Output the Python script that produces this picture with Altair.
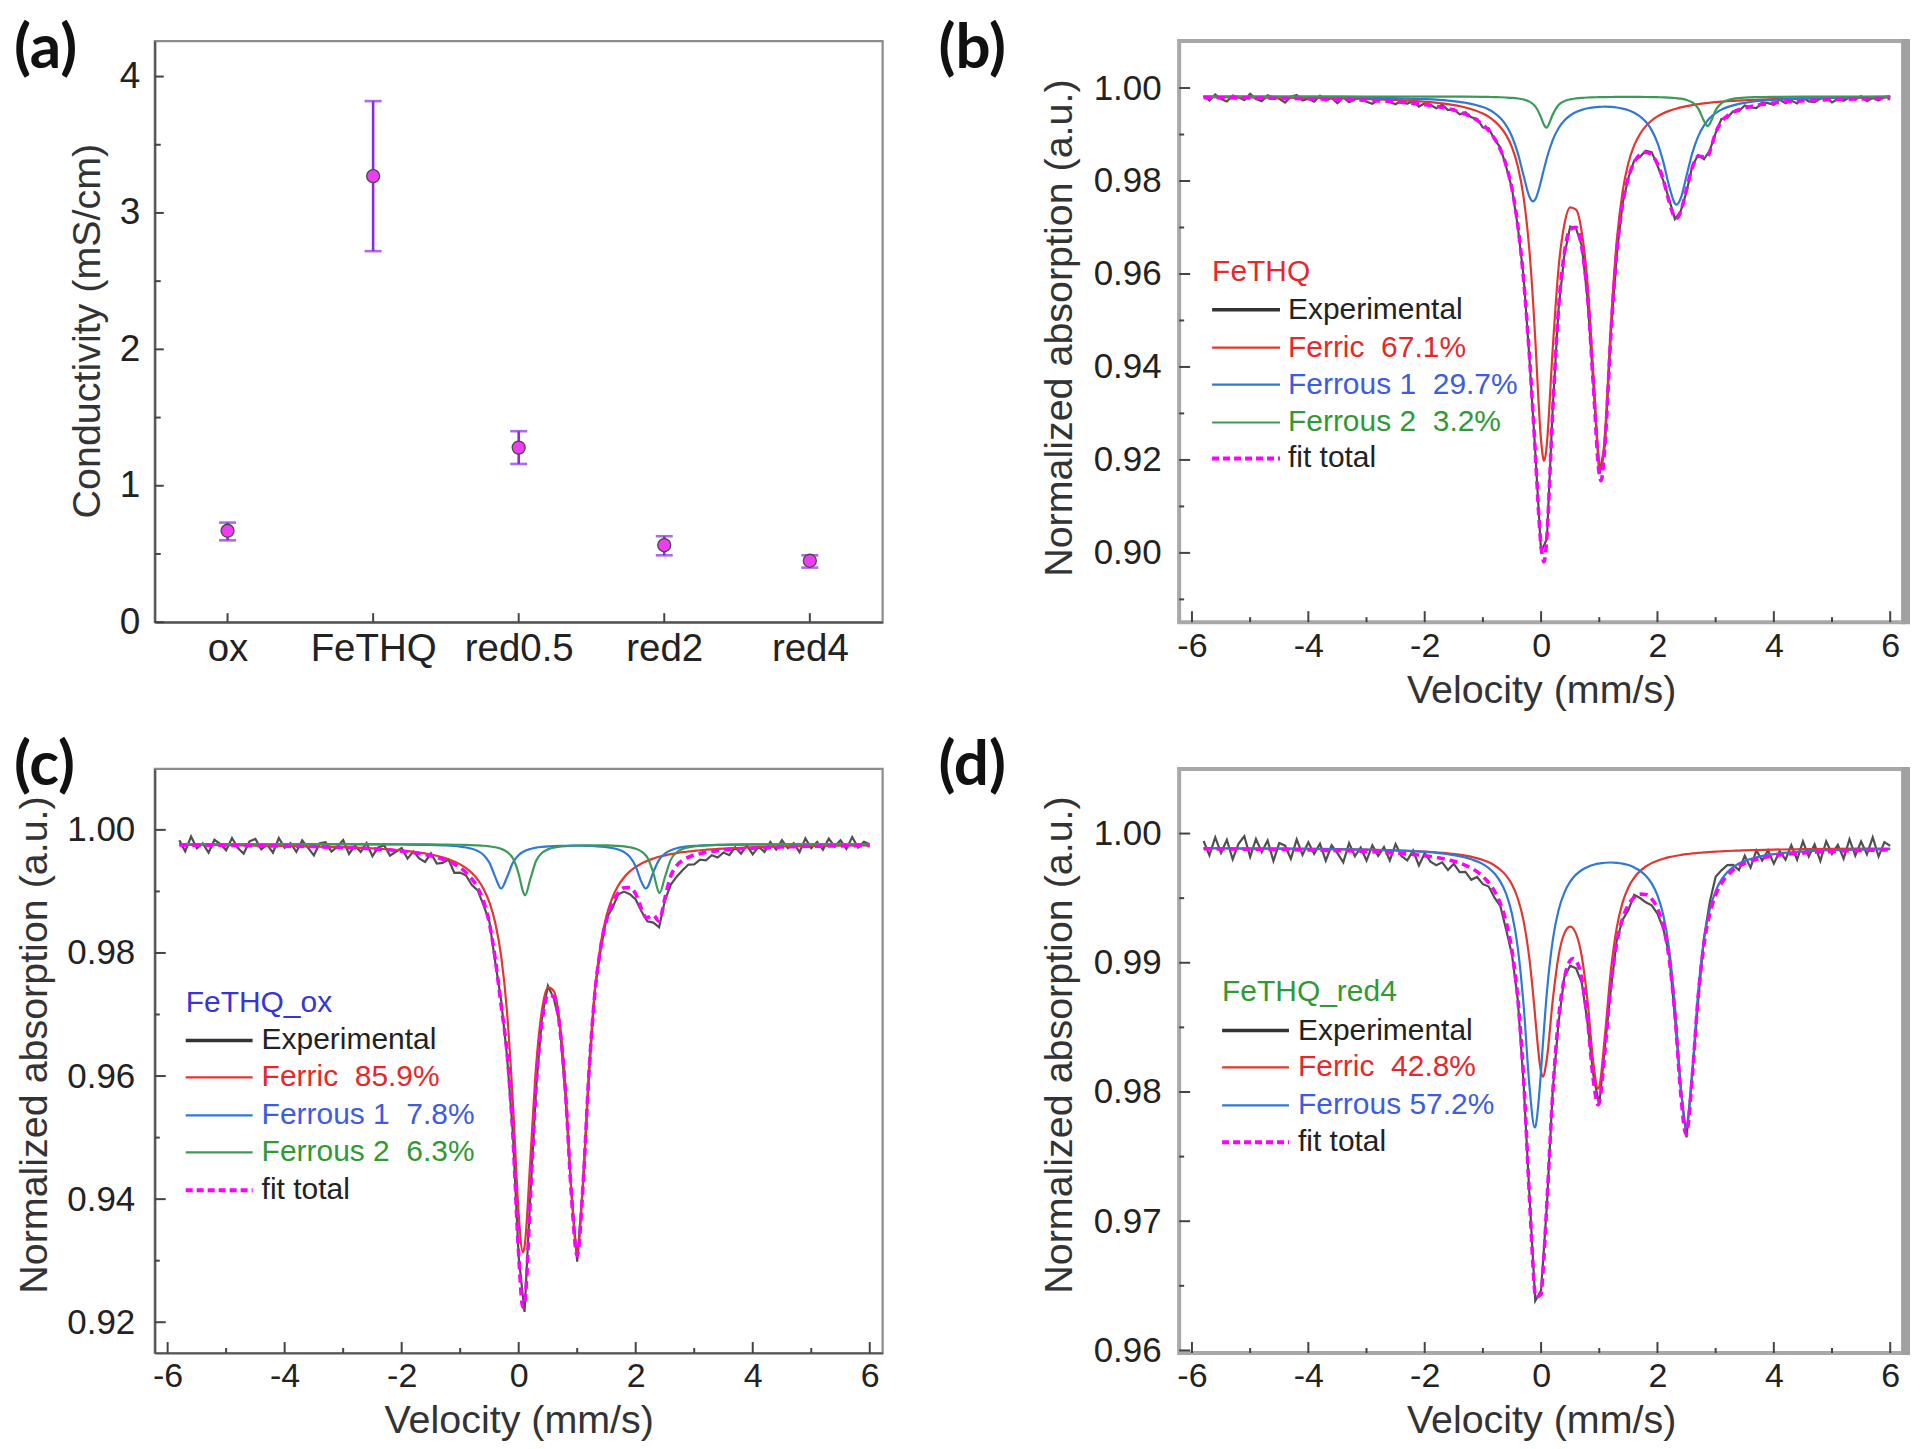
import altair as alt
import pandas as pd

FONT = "Liberation Sans"
LABEL_FONT = "Lato"

# ---------------- panel (a): conductivity ----------------
samples = ["ox", "FeTHQ", "red0.5", "red2", "red4"]
cond_mean = [0.67, 3.27, 1.28, 0.565, 0.45]
cond_low = [0.60, 2.72, 1.16, 0.49, 0.40]
cond_high = [0.73, 3.82, 1.40, 0.63, 0.49]
cond_ticks_major = [0, 1, 2, 3, 4]
cond_ticks_minor = [0.5, 1.5, 2.5, 3.5]

# ---------------- tick values of the spectra ----------------
vel_major = [-6, -4, -2, 0, 2, 4, 6]
vel_minor = [-5, -3, -1, 1, 3, 5]
b_y_major = [0.90, 0.92, 0.94, 0.96, 0.98, 1.00]
b_y_minor = [0.89, 0.91, 0.93, 0.95, 0.97, 0.99]
c_y_major = [0.92, 0.94, 0.96, 0.98, 1.00]
c_y_minor = [0.93, 0.95, 0.97, 0.99]
d_y_major = [0.96, 0.97, 0.98, 0.99, 1.00]
d_y_minor = [0.965, 0.975, 0.985, 0.995]

# ---------------- experimental channels (mm/s) ----------------
velocity_exp = [
    -5.8, -5.7, -5.6, -5.5, -5.4, -5.3, -5.2, -5.1, -5.0, -4.9,
    -4.8, -4.7, -4.6, -4.5, -4.4, -4.3, -4.2, -4.1, -4.0, -3.9,
    -3.8, -3.7, -3.6, -3.5, -3.4, -3.3, -3.2, -3.1, -3.0, -2.9,
    -2.8, -2.7, -2.6, -2.5, -2.4, -2.3, -2.2, -2.1, -2.0, -1.9,
    -1.8, -1.7, -1.6, -1.5, -1.4, -1.3, -1.2, -1.1, -1.0, -0.9,
    -0.8, -0.7, -0.6, -0.5, -0.4, -0.3, -0.2, -0.1, 0.0, 0.1,
    0.2, 0.3, 0.4, 0.5, 0.6, 0.7, 0.8, 0.9, 1.0, 1.1,
    1.2, 1.3, 1.4, 1.5, 1.6, 1.7, 1.8, 1.9, 2.0, 2.1,
    2.2, 2.3, 2.4, 2.5, 2.6, 2.7, 2.8, 2.9, 3.0, 3.1,
    3.2, 3.3, 3.4, 3.5, 3.6, 3.7, 3.8, 3.9, 4.0, 4.1,
    4.2, 4.3, 4.4, 4.5, 4.6, 4.7, 4.8, 4.9, 5.0, 5.1,
    5.2, 5.3, 5.4, 5.5, 5.6, 5.7, 5.8, 5.9, 6.0,
]

exp_b = [
    .99834, .99734, .99863, .99762, .99711, .9984, .99799, .99738, .99876, .99765,
    .99714, .99842, .99801, .99769, .99687, .99815, .99853, .99731, .99769, .99707,
    .99834, .99731, .99788, .99674, .998, .99696, .99752, .99799, .99705, .9966,
    .99744, .99797, .997, .99652, .99732, .99662, .9972, .99598, .99673, .99635,
    .99565, .99642, .99526, .99544, .99435, .99478, .99369, .99335, .9915, .99135,
    .98895, .98719, .98308, .97839, .9702, .95932, .94186, .92186, .90024, .903,
    .93108, .95246, .96403, .9702, .96982, .96602, .95444, .93607, .91694, .92336,
    .94737, .964, .97513, .98065, .98442, .98519, .9865, .9862, .98332, .98008,
    .97609, .97182, .97353, .9777, .9833, .98558, .98468, .98662, .99029, .99335,
    .99361, .99499, .99503, .99623, .99583, .99568, .99687, .99674, .99639, .9975,
    .9967, .99729, .99667, .99795, .99711, .99697, .99772, .99797, .99691, .99764,
    .99727, .998, .99753, .99827, .99719, .99792, .9973, .99806, .99828,
]

exp_c = [
    .99833, .99652, .99892, .99701, .99781, .9963, .99839, .99769, .99668, .99867,
    .99706, .99615, .99814, .99853, .99682, .9976, .99629, .99867, .99706, .99784,
    .99642, .9983, .99708, .99586, .99783, .99801, .99648, .99726, .99833, .99609,
    .99745, .99641, .99787, .99572, .99716, .99749, .99582, .99644, .99704, .99533,
    .9965, .99536, .99479, .99618, .99454, .99464, .99518, .99303, .99305, .99258,
    .99104, .99016, .98774, .98508, .97846, .97228, .96327, .95085, .93063, .92168,
    .94074, .95826, .96976, .97467, .97259, .9686, .95675, .94121, .92985, .94254,
    .95989, .97387, .98047, .9857, .98725, .98951, .98997, .98954, .98868, .98674,
    .98515, .98493, .98417, .98856, .99112, .99239, .99345, .99436, .9944, .99515,
    .99504, .99588, .9955, .99631, .99589, .99716, .99612, .99748, .99603, .99727,
    .99641, .99804, .99678, .99831, .99704, .99786, .99639, .99861, .99703, .99805,
    .99676, .99857, .99729, .99831, .99691, .99883, .99714, .99805, .99766,
]

exp_d = [
    .99942, .99832, .99971, .99851, .99951, .998, .9992, .99979, .99819, .99958,
    .99858, .99947, .99787, .99926, .99906, .99805, .99954, .99834, .99933, .99842,
    .99921, .9979, .99909, .99848, .99777, .99925, .99824, .99892, .99791, .99909,
    .99827, .99895, .99792, .99919, .99826, .99792, .99868, .99753, .99848, .99782,
    .99755, .99777, .99717, .99766, .99702, .99704, .99642, .99664, .99608, .9959,
    .99504, .99438, .99256, .99062, .98713, .98062, .97204, .96383, .96465, .97122,
    .9801, .98537, .9889, .98977, .98957, .98845, .98529, .98125, .97901, .98364,
    .98798, .99173, .99331, .99409, .99526, .99501, .99468, .99444, .99381, .99264,
    .99066, .98582, .98028, .97649, .98148, .98707, .99194, .99472, .99665, .99715,
    .99755, .99757, .99717, .99829, .99736, .9987, .99791, .9987, .99767, .99863,
    .99798, .9991, .99797, .9994, .99823, .99916, .99788, .9994, .99842, .99913,
    .99805, .99956, .99828, .99939, .9984, .99971, .99822, .99933, .99904,
]

# ---------------- fitted sub-spectra, panel (b) FeTHQ ----------------
fit_v_b = [-5.8, -5.0, -4.0, -3.0, -2.5, -2.0, -1.6, -1.3,
           -1.0, -0.9, -0.8, -0.7, -0.6, -0.5, -0.4, -0.3, -0.2,
           -0.14, -0.1, 0.0, 0.05, 0.09,
           0.1, 0.2, 0.3, 0.4, 0.5, 0.6, 0.7, 0.8, 0.9, 1.0,
           1.03,
           1.1, 1.2, 1.3, 1.4, 1.5, 1.6, 1.7, 1.8, 1.9, 2.0, 2.1, 2.2, 2.3,
           2.33,
           2.4, 2.5, 2.6, 2.7, 2.8,
           2.86,
           2.9, 3.0, 3.1, 3.2, 3.3, 3.4, 3.5,
           3.7, 4.0, 4.5, 5.0, 5.5, 6.0]
ferric_b = [.99803, .99798, .99787, .99764, .99742, .99705, .99652, .99581,
            .9945, .99381, .99288, .99163, .98986, .98723, .98316, .97647, .96499,
            .95456, .94597, .92415, .91982, .92217,
            .92349, .94391, .96129, .97065, .97434, .97383, .96892, .95774, .93822, .91925,
            .91791,
            .92602, .94926, .96712, .97767, .98385, .98765, .99012, .9918, .99301, .99389, .99457, .99509, .9955,
            .99561,
            .99584, .99611, .99634, .99653, .9967,
            .99678,
            .99684, .99696, .99706, .99715, .99724, .99731, .99737,
            .99748, .99761, .99775, .99785, .99792, .99797]
ferrous1_b = [.99812, .99809, .99804, .99792, .99781, .99761, .99729, .99684,
              .9959, .99536, .99462, .99355, .99196, .98957, .98599, .98113, .9766,
              .97561, .97605, .98003, .98259, .98453,
              .98499, .9888, .99134, .993, .99409, .99482, .99531, .99564, .99584, .99596,
              .99597,
              .99599, .99594, .99581, .99557, .99522, .99469, .9939, .99273, .99094, .9882, .98412, .97896, .97517,
              .97492,
              .97629, .98115, .98605, .98961, .99198,
              .99299,
              .99354, .9946, .99535, .99589, .99628, .99659, .99682,
              .99716, .99747, .99774, .99788, .99797, .99802]
ferrous2_b = [.9982, .99819, .99819, .99818, .99818, .99817, .99816, .99814,
              .9981, .99808, .99805, .99802, .99796, .99788, .99775, .99752, .99707,
              .99657, .99605, .99366, .99207, .99149,
              .99153, .99428, .99633, .99718, .99757, .99777, .99789, .99796, .998, .99804,
              .99804,
              .99806, .99807, .99808, .99808, .99809, .99808, .99808, .99807, .99805, .99803, .99799, .99794, .99785,
              .99781,
              .99771, .99744, .9969, .99564, .99291,
              .99179,
              .99234, .99522, .99674, .99737, .99768, .99784, .99794,
              .99804, .99811, .99815, .99817, .99818, .99819]
total_b = [.99794, .99786, .99769, .99735, .99702, .99643, .99556, .99438,
           .9921, .99085, .98915, .98679, .98338, .97829, .9705, .95872, .94226,
           .93033, .92166, .90144, .89808, .90179,
           .9036, .93058, .95256, .96443, .9696, .97002, .96572, .95494, .93567, .91684,
           .91552,
           .92366, .94687, .9646, .97493, .98075, .98402, .98569, .9862, .9856, .98372, .98028, .97559, .97212,
           .97194,
           .97343, .9783, .9829, .98538, .98518,
           .98516,
           .98632, .99039, .99275, .99401, .99479, .99533, .99573,
           .99628, .99679, .99725, .99751, .99767, .99778]

# ---------------- fitted sub-spectra, panel (c) FeTHQ_ox ----------------
fit_v_c = [-5.8, -5.0, -4.0, -3.0, -2.5, -2.0, -1.6, -1.3,
           -1.0, -0.9, -0.8, -0.7, -0.6, -0.5, -0.4, -0.3, -0.2, -0.1, 0.0,
           0.07, 0.1, 0.11,
           0.2, 0.3, 0.4, 0.5, 0.6, 0.7, 0.8, 0.9, 1.0, 1.1, 1.2, 1.3, 1.4, 1.5, 1.6, 1.7, 1.8, 1.9, 2.0, 2.1,
           2.17, 2.2, 2.3, 2.4, 2.41,
           2.5, 2.6, 2.7, 2.8, 2.9, 3.0, 3.1, 3.2, 3.3, 3.4, 3.5,
           3.7, 4.0, 4.5, 5.0, 5.5, 6.0]
ferric_c = [.99755, .9975, .99739, .99719, .99699, .99666, .99618, .99554,
            .99439, .99378, .99299, .99191, .9904, .98821, .98486, .97949, .97051, .95583, .93758,
            .93136, .9323, .93309,
            .94658, .96194, .97085, .97442, .97381, .96882, .95796, .94135, .93136, .94274, .96091, .97372, .98139, .98603, .98896, .99091, .99227, .99325, .99398, .99455,
            .99486, .99499, .99534, .99563, .99565,
            .99586, .99606, .99622, .99637, .99649, .99659, .99669, .99677, .99684, .9969, .99696,
            .99705, .99717, .9973, .99739, .99745, .99749]
ferrous1_c = [.99769, .99769, .99768, .99766, .99765, .99762, .99756, .99748,
              .99728, .99714, .99693, .99657, .99592, .99465, .99232, .99047, .99231, .99464, .99591,
              .9964, .99655, .9966,
              .9969, .99711, .99723, .99732, .99737, .9974, .99742, .99743, .99743, .99742, .99739, .99736, .99729, .9972, .99706, .99682, .9964, .99561, .99406, .99151,
              .99047, .99068, .99313, .99513, .99527,
              .99616, .9967, .99701, .99719, .99731, .99739, .99745, .99749, .99753, .99755, .99757,
              .9976, .99763, .99765, .99767, .99768, .99768]
ferrous2_c = [.99769, .99769, .99769, .99768, .99767, .99766, .99764, .99762,
              .99758, .99755, .99752, .99748, .99742, .99732, .99718, .99692, .99644, .99538, .99284,
              .99009, .98943, .98938,
              .99206, .99502, .99628, .99683, .99711, .99727, .99736, .99742, .99746, .99748, .99749, .9975, .99749, .99747, .99744, .99739, .99731, .99717, .99694, .99648,
              .99588, .99548, .99307, .98982, .98977,
              .99234, .99516, .99636, .99689, .99716, .99732, .99741, .99748, .99752, .99755, .99758,
              .99761, .99764, .99766, .99768, .99768, .99769]
total_c = [.99753, .99748, .99736, .99713, .99692, .99654, .99599, .99524,
           .99385, .99308, .99204, .99056, .98834, .98478, .97896, .97148, .96387, .95045, .93093,
           .92246, .92288, .92366,
           .94014, .95866, .96896, .97317, .97289, .9681, .95735, .94081, .93085, .94224, .96039, .97317, .98077, .9853, .98805, .98971, .99057, .99064, .98958, .98714,
           .98581, .98575, .98613, .98517, .98529,
           .98896, .99252, .99419, .99505, .99556, .9959, .99615, .99634, .99648, .9966, .99671,
           .99686, .99703, .99721, .99733, .9974, .99746]

# ---------------- fitted sub-spectra, panel (d) FeTHQ_red4 ----------------
fit_v_d = [-5.8, -5.0, -4.0, -3.0, -2.5, -2.0, -1.6, -1.3,
           -1.0, -0.9, -0.8, -0.7, -0.6, -0.5, -0.4, -0.3, -0.2,
           -0.11, -0.1, 0.0, 0.03,
           0.1, 0.2, 0.3, 0.4, 0.5, 0.55, 0.6, 0.7, 0.8, 0.9, 0.98,
           1.0, 1.1, 1.2, 1.3, 1.4, 1.5, 1.6, 1.7, 1.8, 1.9, 2.0, 2.1, 2.2, 2.3, 2.4,
           2.49,
           2.5, 2.6, 2.7, 2.8, 2.9, 3.0, 3.1, 3.2, 3.3, 3.4, 3.5,
           3.7, 4.0, 4.5, 5.0, 5.5, 6.0]
ferric_d = [.99886, .99884, .99882, .99876, .9987, .99861, .99847, .99829,
            .99795, .99777, .99753, .9972, .99674, .99605, .99497, .99322, .99028,
            .98625, .98574, .98155, .98119,
            .9826, .98707, .99051, .99227, .99279, .99266, .99225, .99047, .98697, .98217, .98025,
            .98042, .9845, .98943, .9927, .99465, .99583, .99659, .99709, .99745, .99771, .9979, .99805, .99817, .99826, .99834,
            .9984,
            .9984, .99846, .9985, .99854, .99857, .9986, .99862, .99865, .99867, .99868, .9987,
            .99872, .99876, .99879, .99881, .99883, .99884]
ferrous_d = [.99886, .99884, .99881, .99875, .99869, .99858, .9984, .99815,
             .99763, .99733, .99691, .99628, .99533, .99378, .99116, .9867, .98046,
             .97725, .97729, .98169, .98363,
             .98772, .99173, .99406, .99543, .99628, .99658, .99682, .99718, .99742, .99758, .99767,
             .99768, .99774, .99776, .99773, .99767, .99756, .99738, .99712, .99673, .99614, .99521, .99369, .99109, .98665, .98044,
             .97725,
             .97729, .98172, .98777, .9918, .99415, .99555, .99643, .997, .9974, .99768, .99789,
             .99817, .99841, .99861, .99871, .99876, .99879]
total_d = [.99882, .99879, .99873, .99861, .99849, .99828, .99797, .99754,
           .99668, .9962, .99554, .99458, .99316, .99092, .98723, .98102, .97184,
           .9646, .96413, .96435, .96593,
           .97142, .9799, .98567, .9888, .99017, .99033, .99017, .98875, .98549, .98085, .97901,
           .97921, .98334, .98828, .99153, .99341, .99449, .99506, .99531, .99528, .99494, .99421, .99284, .99036, .98602, .97988,
           .97675,
           .97679, .98128, .98737, .99144, .99382, .99525, .99615, .99675, .99717, .99747, .99769,
           .998, .99827, .9985, .99862, .99869, .99874]

# ---------------- styling ----------------
RED = "#e3362f"
BLUE = "#2f78d6"
GREEN = "#3b9a58"
MAGENTA = "#ff00ff"
EXP_GRAY = "#4f4f4f"
RED_TXT = "#e8272b"
BLUE_TXT = "#3d5ce2"
GREEN_TXT = "#2f9a33"
TICK_COLOR = "#444444"

NBSP = "\u00a0"
ONE = pd.DataFrame({"k": [0]})
LABEL_SIZE = 62
LABEL_Y_TOP = -22      # labels of the upper panels
LABEL_Y_BOTTOM = -33   # labels of the lower panels
LABEL_X_LEFT = -141
XTICK_FS = 34
YTICK_FS = 35
TITLE_FS = 39.5


def text_layer(txt, x, y, size, color="#222222", font=FONT, weight="normal",
               align="left", baseline="middle"):
    return alt.Chart(ONE).mark_text(
        text=txt, font=font, fontSize=size, fontWeight=weight, color=color,
        align=align, baseline=baseline,
    ).encode(x=alt.value(x), y=alt.value(y))


def hline_layer(x0, x1, y, color, width, dash=None):
    kw = dict(color=color, strokeWidth=width)
    if dash:
        kw["strokeDash"] = dash
    return alt.Chart(ONE).mark_rule(**kw).encode(
        x=alt.value(x0), x2=alt.value(x1), y=alt.value(y))


def y_tick_layer(vals, scale, axis, length):
    return alt.Chart(pd.DataFrame({"t": vals})).mark_rule(
        color=TICK_COLOR, strokeWidth=2).encode(
        y=alt.Y("t:Q", scale=scale, axis=axis),
        x=alt.value(0), x2=alt.value(length))


def x_tick_layer(vals, scale, axis, length, H, field_type="Q"):
    return alt.Chart(pd.DataFrame({"t": vals})).mark_rule(
        color=TICK_COLOR, strokeWidth=2).encode(
        x=alt.X(f"t:{field_type}", scale=scale, axis=axis),
        y=alt.value(H), y2=alt.value(H - length))


# ---------------- panel (a) ----------------
WA, HA = 729, 582
xa_scale = alt.Scale(type="point", domain=samples, padding=0.5)
ya_scale = alt.Scale(domain=[0, 4.26], nice=False, zero=False)
df_a = pd.DataFrame({"sample": samples, "mean": cond_mean,
                     "low": cond_low, "high": cond_high})

xa_axis = alt.Axis(
    ticks=False, grid=False, domain=True, domainColor="#555555", domainWidth=2.2,
    labelFont=FONT, labelFontSize=38.5, labelColor="#222222", labelPadding=8,
    labelAngle=0, title=None)
ya_axis = alt.Axis(
    values=cond_ticks_major, labelExpr="datum.value", ticks=False, grid=False,
    domain=True, domainColor="#555555", domainWidth=2.2,
    labelFont=FONT, labelFontSize=37, labelColor="#222222", labelPadding=15,
    labelFlush=False,
    title="Conductivity (mS/cm)", titleFont=FONT, titleFontSize=TITLE_FS,
    titleFontWeight="normal", titleColor="#333333", titleAngle=-90,
    titleX=-67, titleY=290, titleAlign="center", titleBaseline="middle")

err_rule = alt.Chart(df_a).mark_rule(color="#8a2be2", strokeWidth=2.6).encode(
    x=alt.X("sample:N", scale=xa_scale, axis=xa_axis),
    y=alt.Y("low:Q", scale=ya_scale, axis=ya_axis),
    y2="high:Q")
cap_low = alt.Chart(df_a).mark_tick(color="#8a2be2", size=17, thickness=2.6).encode(
    x=alt.X("sample:N", scale=xa_scale, axis=xa_axis),
    y=alt.Y("low:Q", scale=ya_scale, axis=ya_axis))
cap_high = alt.Chart(df_a).mark_tick(color="#8a2be2", size=17, thickness=2.6).encode(
    x=alt.X("sample:N", scale=xa_scale, axis=xa_axis),
    y=alt.Y("high:Q", scale=ya_scale, axis=ya_axis))
points_a = alt.Chart(df_a).mark_circle(
    size=170, color="#ee3cf2", opacity=1, stroke="#4a4a4a", strokeWidth=1.3).encode(
    x=alt.X("sample:N", scale=xa_scale, axis=xa_axis),
    y=alt.Y("mean:Q", scale=ya_scale, axis=ya_axis))

panel_a = alt.layer(
    err_rule, cap_low, cap_high, points_a,
    y_tick_layer(cond_ticks_major, ya_scale, ya_axis, 9),
    y_tick_layer(cond_ticks_minor, ya_scale, ya_axis, 6),
    x_tick_layer(samples, xa_scale, xa_axis, 9, HA, field_type="N"),
    text_layer("(a)", LABEL_X_LEFT, LABEL_Y_TOP, LABEL_SIZE, color="#111111",
               font=LABEL_FONT, weight="bold", baseline="top"),
).properties(width=WA, height=HA,
             view=alt.ViewBackground(stroke="#8c8c8c", strokeWidth=2.2))


# ---------------- spectrum panels ----------------
def spectrum_panel(fit_v, comps, total, exp_vals, W, H, ydom, ymaj, ymin,
                   legend_title, legend_title_color, entries, leg_x0, leg_x1,
                   leg_xt, leg_ytitle, leg_rows, label, label_x, label_y,
                   ytitle_y, light_frame, ylabel_pad):
    xs = alt.Scale(domain=[-6.22, 6.22], nice=False, zero=False)
    ys = alt.Scale(domain=ydom, nice=False, zero=False)
    if light_frame:
        dom_kw = dict(domain=False)
        view = alt.ViewBackground(stroke="#a8a8a8", strokeWidth=4)
    else:
        dom_kw = dict(domain=True, domainColor="#555555", domainWidth=2.2)
        view = alt.ViewBackground(stroke="#8c8c8c", strokeWidth=2.2)

    x_axis = alt.Axis(
        values=vel_major, labelExpr="datum.value", ticks=False, grid=False,
        labelFont=FONT, labelFontSize=XTICK_FS, labelColor="#222222",
        labelPadding=7, labelFlush=False, title="Velocity (mm/s)",
        titleFont=FONT, titleFontSize=TITLE_FS, titleFontWeight="normal",
        titleColor="#333333", titleX=W / 2, titleY=68, titleAlign="center",
        titleBaseline="middle", **dom_kw)
    y_axis = alt.Axis(
        values=ymaj, labelExpr="format(datum.value, '.2f')", ticks=False,
        grid=False, labelFont=FONT, labelFontSize=YTICK_FS, labelColor="#222222",
        labelPadding=ylabel_pad, labelFlush=False,
        title="Normalized absorption (a.u.)", titleFont=FONT,
        titleFontSize=TITLE_FS, titleFontWeight="normal", titleColor="#333333",
        titleAngle=-90, titleX=-120, titleY=ytitle_y, titleAlign="center",
        titleBaseline="middle", **dom_kw)

    exp_df = pd.DataFrame({"v": velocity_exp, "a": exp_vals})
    fit_cols = {"v": fit_v, "total": total}
    for name, vals, _ in comps:
        fit_cols[name] = vals
    fit_df = pd.DataFrame(fit_cols)

    layers = [
        alt.Chart(exp_df).mark_line(color=EXP_GRAY, strokeWidth=2.2, clip=True).encode(
            x=alt.X("v:Q", scale=xs, axis=x_axis),
            y=alt.Y("a:Q", scale=ys, axis=y_axis))
    ]
    for name, _, color in comps:
        layers.append(
            alt.Chart(fit_df).mark_line(color=color, strokeWidth=2.2,
                                        interpolate="monotone", clip=True).encode(
                x=alt.X("v:Q", scale=xs, axis=x_axis),
                y=alt.Y(f"{name}:Q", scale=ys, axis=y_axis)))
    layers.append(
        alt.Chart(fit_df).mark_line(color=MAGENTA, strokeWidth=3.6,
                                    strokeDash=[8, 5], interpolate="monotone",
                                    clip=True).encode(
            x=alt.X("v:Q", scale=xs, axis=x_axis),
            y=alt.Y("total:Q", scale=ys, axis=y_axis)))

    layers += [
        y_tick_layer(ymaj, ys, y_axis, 11),
        y_tick_layer(ymin, ys, y_axis, 5),
        x_tick_layer(vel_major, xs, x_axis, 11, H),
        x_tick_layer(vel_minor, xs, x_axis, 5, H),
    ]

    # legend drawn inside the plot
    layers.append(text_layer(legend_title, leg_x0, leg_ytitle, 30,
                             color=legend_title_color))
    for (txt, tcol, lcol, lw, dash), yrow in zip(entries, leg_rows):
        layers.append(hline_layer(leg_x0, leg_x1, yrow, lcol, lw, dash))
        layers.append(text_layer(txt, leg_xt, yrow, 30, color=tcol))

    layers.append(text_layer(label, label_x, label_y, LABEL_SIZE,
                             color="#111111", font=LABEL_FONT, weight="bold",
                             baseline="top"))
    if light_frame:
        layers.append(alt.Chart(ONE).mark_rule(color="#a0a0a0", strokeWidth=8).encode(
            x=alt.value(W + 3), y=alt.value(-2), y2=alt.value(H + 2)))

    return alt.layer(*layers).properties(width=W, height=H, view=view)


entries_b = [
    ("Experimental", "#222222", "#333333", 3.5, None),
    ("Ferric" + NBSP + NBSP + "67.1%", RED_TXT, RED, 2.2, None),
    ("Ferrous 1" + NBSP + NBSP + "29.7%", BLUE_TXT, BLUE, 2.2, None),
    ("Ferrous 2" + NBSP + NBSP + "3.2%", GREEN_TXT, GREEN, 2.2, None),
    ("fit total", "#222222", MAGENTA, 4, [7, 4]),
]
entries_c = [
    ("Experimental", "#222222", "#333333", 3.5, None),
    ("Ferric" + NBSP + NBSP + "85.9%", RED_TXT, RED, 2.2, None),
    ("Ferrous 1" + NBSP + NBSP + "7.8%", BLUE_TXT, BLUE, 2.2, None),
    ("Ferrous 2" + NBSP + NBSP + "6.3%", GREEN_TXT, GREEN, 2.2, None),
    ("fit total", "#222222", MAGENTA, 4, [7, 4]),
]
entries_d = [
    ("Experimental", "#222222", "#333333", 3.5, None),
    ("Ferric" + NBSP + NBSP + "42.8%", RED_TXT, RED, 2.2, None),
    ("Ferrous 57.2%", BLUE_TXT, BLUE, 2.2, None),
    ("fit total", "#222222", MAGENTA, 4, [7, 4]),
]

panel_b = spectrum_panel(
    fit_v_b,
    [("ferric", ferric_b, RED), ("ferrous1", ferrous1_b, BLUE),
     ("ferrous2", ferrous2_b, GREEN)],
    total_b, exp_b, 725, 582, [0.8851, 1.0101], b_y_major, b_y_minor,
    "FeTHQ", RED_TXT, entries_b, 33, 101, 109, 231, [269, 307, 344, 382, 418],
    "(b)", -241, LABEL_Y_TOP, 287, True, 18)

panel_c = spectrum_panel(
    fit_v_c,
    [("ferric", ferric_c, RED), ("ferrous1", ferrous1_c, BLUE),
     ("ferrous2", ferrous2_c, GREEN)],
    total_c, exp_c, 729, 585, [0.915, 1.0099], c_y_major, c_y_minor,
    "FeTHQ_ox", "#3535d8", entries_c, 31, 98, 107, 234, [272, 309, 347, 384, 422],
    "(c)", LABEL_X_LEFT, LABEL_Y_BOTTOM, 276, False, 20)

panel_d = spectrum_panel(
    fit_v_d,
    [("ferric", ferric_d, RED), ("ferrous", ferrous_d, BLUE)],
    total_d, exp_d, 725, 585, [0.9598, 1.005], d_y_major, d_y_minor,
    "FeTHQ_red4", GREEN_TXT, entries_d, 43, 110, 119, 223, [262, 299, 337, 374],
    "(d)", -241, LABEL_Y_BOTTOM, 276, True, 18)

chart = alt.concat(
    panel_a, panel_b, panel_c, panel_d,
    columns=2, spacing={"row": 147, "column": 297}, bounds="flush",
).properties(
    padding={"left": 4, "top": 7, "right": 0, "bottom": 0}
).configure(background="white")

chart.save("out.html", embed_options={"renderer": "svg", "actions": False})
